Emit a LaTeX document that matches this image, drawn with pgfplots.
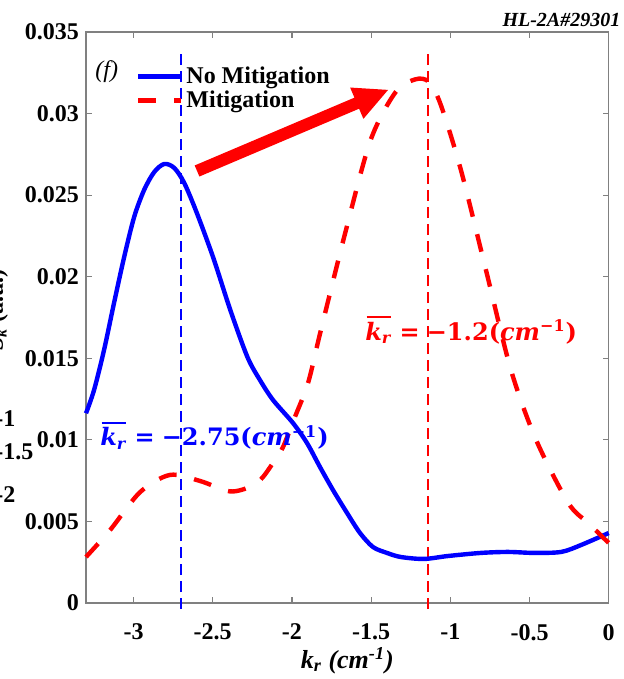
\documentclass[border=0pt]{standalone}
\usepackage{fontspec}
\setmainfont{Liberation Serif}
\newfontfamily\annserif{DejaVu Serif}
\usepackage{pgfplots}
\pgfplotsset{compat=1.18}
\definecolor{axgray}{gray}{0.5}
\newcommand{\tickfont}{\fontsize{12}{14}\selectfont\bfseries}
\newcommand{\annfont}{\fontsize{12}{14}\selectfont\annserif\bfseries}
\newcommand{\kbar}{\rlap{\hspace{0.05em}\rule[0.93em]{1.0em}{0.06em}}\textit{k}\textsubscript{\textit{r}}}
\pgfplotsset{legend image code/.code={\draw[#1] (0pt,0pt) -- (21.5pt,0pt);}}
\begin{document}
\begin{tikzpicture}
\begin{axis}[
  at={(0pt,0pt)}, anchor=south west,
  scale only axis, width=261.35pt, height=285.5pt,
  xmin=-3.3, xmax=0, ymin=0, ymax=0.035,
  scaled y ticks=false, scaled x ticks=false,
  xtick={-3,-2.5,-2,-1.5,-1,-0.5,0},
  xticklabels={-3,-2.5,-2,-1.5,-1,-0.5,0},
  ytick={0,0.005,0.01,0.015,0.02,0.025,0.03,0.035},
  yticklabels={0,0.005,0.01,0.015,0.02,0.025,0.03,0.035},
  tick align=inside, major tick length=3pt,
  axis line style={axgray, line width=0.6pt},
  tick style={axgray, line width=0.6pt},
  ticklabel style={font=\tickfont, text=black},
  xticklabel style={yshift=-7pt},
  xlabel={\bfseries\itshape k\textsubscript{r} (cm\textsuperscript{-1})},
  xlabel style={font=\fontsize{13}{15}\selectfont, at={(axis description cs:0.5,-0.11384)}, anchor=base},
  clip=false,
  legend style={at={(axis description cs:0.0957,0.93905)}, anchor=north west,
    draw=none, fill=none, inner sep=0pt, outer sep=0pt, row sep=2.2pt, column sep=1.5pt,
    font=\tickfont, nodes={inner sep=0pt}},
  legend cell align=left,
]
\addplot[blue, line width=1.3pt, dash pattern=on 5.5pt off 3pt, forget plot] coordinates {(-2.7,-0.00037) (-2.7,0.0338)};
\addplot[red, line width=1.3pt, dash pattern=on 5.5pt off 3pt, forget plot] coordinates {(-1.14,-0.00037) (-1.14,0.0337)};
\addplot[blue, line width=2.2pt, smooth] coordinates {
(-3.3,0.01163) (-3.249,0.01306) (-3.186,0.01551) (-3.123,0.01839) (-3.059,0.02121) (-2.996,0.02366) (-2.933,0.02532) (-2.869,0.02642) (-2.806,0.02691) (-2.743,0.02667) (-2.68,0.02575) (-2.6,0.0239) (-2.496,0.02115) (-2.389,0.01796) (-2.281,0.01508) (-2.202,0.01367) (-2.119,0.01244) (-1.993,0.01103) (-1.905,0.00981) (-1.823,0.00834) (-1.741,0.00693) (-1.652,0.00552) (-1.57,0.00429) (-1.488,0.00343) (-1.4,0.00307) (-1.313,0.00282) (-1.167,0.0027) (-1.015,0.00288) (-0.806,0.00307) (-0.635,0.00313) (-0.471,0.00307) (-0.3,0.00313) (-0.173,0.00356) (0,0.00429)};
\addlegendentry{No Mitigation}
\addplot[red, line width=2.2pt, dash pattern=on 9pt off 9pt, smooth] coordinates {
(-3.3,0.00282) (-3.148,0.00447) (-2.958,0.0068) (-2.77,0.00785) (-2.58,0.00748) (-2.39,0.00684) (-2.252,0.00717) (-2.183,0.00772) (-2.107,0.00877) (-2.056,0.00956) (-1.981,0.0114) (-1.898,0.01349) (-1.82,0.01661) (-1.662,0.02274) (-1.503,0.02838) (-1.345,0.03132) (-1.22,0.0321) (-1.135,0.03194) (-1.06,0.03053) (-0.933,0.02654) (-0.775,0.02041) (-0.617,0.01428) (-0.458,0.00999) (-0.255,0.00613) (-0.129,0.0049) (0,0.00368)};
\addlegendentry{Mitigation}
\end{axis}
\node[anchor=base west, inner sep=0pt, font=\fontsize{12}{14}\selectfont\itshape] at (4.5pt,262.5pt) {(f)};
\node[anchor=base east, inner sep=0pt, font=\fontsize{10}{12}\selectfont\bfseries\itshape] at (267.35pt,288pt) {HL-2A\#29301};
\node[rotate=90, anchor=base, inner sep=0pt, font=\tickfont] at (-41.5pt,146.46pt) {\textit{S}\textsubscript{\textit{k}} (a.u.)};
\node[anchor=base west, inner sep=0pt, font=\tickfont] at (-45.5pt,88pt) {-1};
\node[anchor=base west, inner sep=0pt, font=\tickfont] at (-45.5pt,71.5pt) {-1.5};
\node[anchor=base west, inner sep=0pt, font=\tickfont] at (-45.5pt,50pt) {-2};
\node[anchor=west, inner sep=0pt, text=blue, font=\annfont] at (6.97pt,83.53pt) {\kbar\hspace{0.3em}=\hspace{0.3em}−2.75(\textit{cm}\textsuperscript{−1})};
\node[anchor=west, inner sep=0pt, text=red, font=\annfont] at (139.47pt,136.47pt) {\kbar\hspace{0.3em}=\hspace{0.3em}−1.2(\textit{cm}\textsuperscript{−1})};
\draw[red, line width=6pt] (55.52pt,216pt) -- (136.3pt,250.3pt);
\fill[red] (151.03pt,256.54pt) -- (132.06pt,257.73pt) -- (138.70pt,242.07pt) -- cycle;
\pgfresetboundingbox
\useasboundingbox (-43pt,-38pt) rectangle (269pt,301.5pt);
\end{tikzpicture}
\end{document}
